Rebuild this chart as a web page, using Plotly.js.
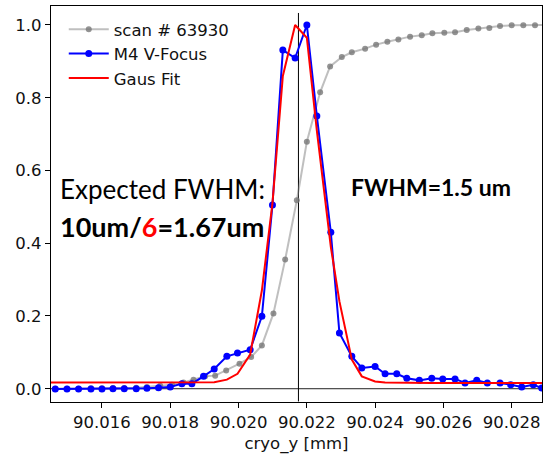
<!DOCTYPE html>
<html>
<head>
<meta charset="utf-8">
<script src="https://cdn.plot.ly/plotly-3.0.1.min.js"></script>
<style>
html,body{margin:0;padding:0;overflow:hidden;background:#fff;}
#chart{width:546px;height:460px;}
</style>
</head>
<body>
<div id="chart"></div>
<script>
// ---- data ----
const scanX = [90.014634,90.014977,90.015316,90.015679,90.016001,90.016323,90.016654,90.017005,90.017318,
  90.017707,90.018050,90.018389,90.018682,90.019024,90.019317,90.019639,90.020028,90.020370,90.020684,
  90.021023,90.021366,90.021708,90.022001,90.022390,90.022682,90.023025,90.023318,90.023707,90.024029,
  90.024359,90.024681,90.025024,90.025366,90.025676,90.026027,90.026341,90.026683,90.027023,90.027345,
  90.027658,90.027999,90.028340,90.028682,90.029004];
const scanY = [0.000,0.000,0.000,0.001,0.001,0.002,0.002,0.003,0.005,
  0.008,0.011,0.017,0.025,0.034,0.036,0.050,0.069,0.087,0.119,
  0.207,0.355,0.518,0.679,0.815,0.886,0.912,0.925,0.935,0.946,
  0.954,0.960,0.968,0.972,0.977,0.979,0.980,0.986,0.990,0.992,
  0.997,0.999,0.999,0.999,1.000];

const focusX = [90.014634,90.014977,90.015316,90.015679,90.016001,90.016323,90.016654,90.017005,90.017318,
  90.017658,90.018000,90.018342,90.018635,90.018975,90.019288,90.019659,90.019970,90.020341,90.020684,
  90.020994,90.021298,90.021658,90.022001,90.022293,90.022703,90.022955,90.023318,90.023610,90.023999,
  90.024292,90.024634,90.024927,90.025296,90.025659,90.025981,90.026341,90.026633,90.026976,90.027286,
  90.027658,90.027971,90.028293,90.028632,90.028878,90.029209];
const focusY = [-0.001,-0.001,-0.001,-0.001,-0.001,0.000,0.000,0.000,0.001,
  0.003,0.005,0.014,0.014,0.034,0.054,0.089,0.098,0.107,0.199,
  0.505,0.931,0.909,1.000,0.750,0.430,0.153,0.089,0.057,0.061,
  0.041,0.041,0.029,0.023,0.029,0.027,0.027,0.016,0.023,0.016,
  0.016,0.011,0.005,0.011,0.002,-0.004];

const fitX = [90.014500,90.014634,90.015316,90.016001,90.016654,90.017318,90.018000,90.018635,90.018975,
  90.019288,90.019659,90.019970,90.020341,90.020684,90.020994,90.021298,90.021658,90.022001,90.022293,
  90.022703,90.022955,90.023318,90.023610,90.023999,90.024292,90.024927,90.025659,90.026341,90.026976,
  90.027658,90.028293,90.028878,90.029209];
const fitY = [0.017,0.017,0.017,0.017,0.017,0.017,0.017,0.017,0.017,
  0.018,0.025,0.041,0.094,0.270,0.510,0.860,1.000,0.965,0.710,
  0.390,0.240,0.080,0.034,0.020,0.017,0.016,0.016,0.016,0.016,
  0.016,0.016,0.016,0.016];

const legendNames = ["scan # 63930", "M4 V-Focus", "Gaus Fit"];
const xTickVals = [90.016,90.018,90.020,90.022,90.024,90.026,90.028];
const yTickVals = [0.0,0.2,0.4,0.6,0.8,1.0];
const centerLineX = 90.021755;

const traces = [
  {x: scanX, y: scanY, name: legendNames[0], mode: 'lines+markers', type: 'scatter',
   line: {color: 'rgba(128,128,128,0.5)', width: 2},
   marker: {color: 'rgba(120,120,120,0.8)', size: 6}},
  {x: focusX, y: focusY, name: legendNames[1], mode: 'lines+markers', type: 'scatter',
   line: {color: '#0000ff', width: 2},
   marker: {color: '#0000ff', size: 7}},
  {x: fitX, y: fitY, name: legendNames[2], mode: 'lines', type: 'scatter',
   line: {color: '#ff0000', width: 2}}
];

const tickFont = {family: 'DejaVu Sans, sans-serif', size: 16.5, color: '#111'};

const layout = {
  width: 546, height: 460,
  margin: {l: 51, r: 4, t: 6, b: 58},
  paper_bgcolor: '#fff', plot_bgcolor: '#fff',
  font: {family: 'DejaVu Sans, sans-serif', size: 16, color: '#111'},
  showlegend: true,
  legend: {x: 0.026, y: 0.985, xanchor: 'left', yanchor: 'top', bgcolor: 'rgba(255,255,255,0)',
           itemwidth: 40,
           font: {family: 'DejaVu Sans, sans-serif', size: 16.5, color: '#111'}},
  xaxis: {range: [90.014509, 90.028887], tickvals: xTickVals, tickformat: '.3f',
          showgrid: false, zeroline: false, showline: true, mirror: true, linecolor: '#000', linewidth: 1.2,
          ticks: 'outside', ticklen: 5, tickcolor: '#000', tickfont: tickFont,
          title: {text: 'cryo_y [mm]', font: tickFont, standoff: 6}},
  yaxis: {range: [-0.0365, 1.0522], tickvals: yTickVals, tickformat: '.1f',
          showgrid: false, zeroline: false, showline: true, mirror: true, linecolor: '#000', linewidth: 1.2,
          ticks: 'outside', ticklen: 5, tickcolor: '#000', tickfont: tickFont},
  shapes: [
    {type: 'line', xref: 'paper', x0: 0, x1: 1, yref: 'y', y0: 0, y1: 0, line: {color: '#222', width: 1}, layer: 'below'},
    {type: 'line', xref: 'x', x0: centerLineX, x1: centerLineX, yref: 'y', y0: -0.035, y1: 1.033, line: {color: '#000', width: 1}, layer: 'below'}
  ],
  annotations: [
    {xref: 'paper', yref: 'paper', x: 0.015, y: 0.539, xanchor: 'left', yanchor: 'middle', showarrow: false,
     text: 'Expected FWHM:', font: {family: 'Lato, sans-serif', size: 26, color: '#000'}},
    {xref: 'paper', yref: 'paper', x: 0.015, y: 0.443, xanchor: 'left', yanchor: 'middle', showarrow: false,
     text: '<b>10um/<span style="color:#ff0000">6</span>=1.67um</b>', font: {family: 'Lato, sans-serif', size: 27, color: '#000'}},
    {xref: 'paper', yref: 'paper', x: 0.607, y: 0.542, xanchor: 'left', yanchor: 'middle', showarrow: false,
     text: '<b>FWHM=1.5 um</b>', font: {family: 'Lato, sans-serif', size: 23, color: '#000'}}
  ]
};

Plotly.newPlot('chart', traces, layout, {displayModeBar: false, staticPlot: true});
</script>
</body>
</html>
